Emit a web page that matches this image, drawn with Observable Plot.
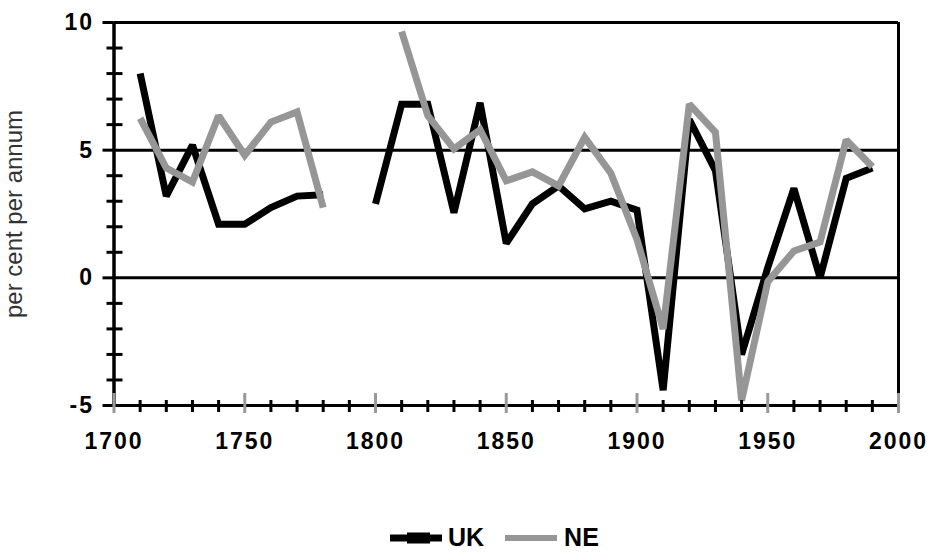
<!DOCTYPE html>
<html>
<head>
<meta charset="utf-8">
<script src="https://cdn.jsdelivr.net/npm/d3@7"></script>
<script src="https://cdn.jsdelivr.net/npm/@observablehq/plot@0.6"></script>
<style>
  body { margin: 0; background: #fff; }
  #wrap { position: relative; width: 934px; height: 552px; font-family: "Liberation Sans", Arial, sans-serif; background: #fff; overflow: hidden; }
  #wrap svg g[aria-label="x-axis tick label"] text,
  #wrap svg g[aria-label="y-axis tick label"] text { letter-spacing: 2px; }
  #legend { position: absolute; left: 390px; top: 524px; display: flex; align-items: center; height: 27px;
            font-weight: bold; font-size: 25px; line-height: 27px; color: #000; }
  #legend span { line-height: 27px; display: inline-block; }
</style>
</head>
<body>
<div id="wrap">
  <div id="chart"></div>
  <div id="legend"></div>
</div>
<script>
// ---- data ----
const years = [1710, 1720, 1730, 1740, 1750, 1760, 1770, 1780, 1790, 1800,
               1810, 1820, 1830, 1840, 1850, 1860, 1870, 1880, 1890, 1900,
               1910, 1920, 1930, 1940, 1950, 1960, 1970, 1980, 1990];
const ukValues = [8.0, 3.2, 5.2, 2.1, 2.1, 2.75, 3.2, 3.25, null, 2.9,
                  6.8, 6.8, 2.55, 6.85, 1.35, 2.9, 3.6, 2.7, 3.0, 2.65,
                  -4.4, 6.2, 4.2, -3.0, 0.4, 3.5, 0.0, 3.9, 4.3];
const neValues = [6.25, 4.3, 3.75, 6.35, 4.8, 6.1, 6.5, 2.75, null, null,
                  9.65, 6.35, 5.05, 5.8, 3.8, 4.15, 3.6, 5.5, 4.1, 1.5,
                  -2.0, 6.8, 5.7, -4.8, -0.15, 1.05, 1.4, 5.4, 4.35];
const seriesNames = ["UK", "NE"];
const seriesColors = ["#000000", "#969696"];
const yLabel = "per cent per annum";
const yMajorTicks = [-5, 0, 5, 10];
const yMinorTicks = [-4, -3, -2, -1, 1, 2, 3, 4, 6, 7, 8, 9];
const xMajorTicks = [1700, 1750, 1800, 1850, 1900, 1950, 2000];
const xMinorTicks = [1710, 1720, 1730, 1740, 1760, 1770, 1780, 1790, 1810, 1820, 1830, 1840,
                     1860, 1870, 1880, 1890, 1910, 1920, 1930, 1940, 1960, 1970, 1980, 1990];
const gridValues = [0, 5, 10];

const ukRows = years.map((year, i) => ({year, value: ukValues[i]}));
const neRows = years.map((year, i) => ({year, value: neValues[i]}));

const lineOpts = {x: "year", y: "value", strokeWidth: 7, strokeLinejoin: "miter", strokeMiterlimit: 2, strokeLinecap: "butt"};
const fmt = d => String(d);

const chart = Plot.plot({
  width: 934,
  height: 515,
  marginLeft: 113.5,
  marginRight: 36,
  marginTop: 22,
  marginBottom: 110,
  style: {fontFamily: "'Liberation Sans', Arial, sans-serif", color: "#000", background: "#fff", overflow: "visible"},
  x: {domain: [1700, 2000], label: null},
  y: {domain: [-5, 10], label: null},
  marks: [
    Plot.ruleY(gridValues, {stroke: "#000", strokeWidth: 3}),
    Plot.ruleX([2000], {stroke: "#000", strokeWidth: 3}),
    Plot.line(ukRows, {...lineOpts, stroke: seriesColors[0]}),
    Plot.line(neRows, {...lineOpts, stroke: seriesColors[1]}),
    Plot.ruleX([1700], {stroke: "#000", strokeWidth: 3.5}),
    Plot.ruleY([-5], {stroke: "#000", strokeWidth: 3}),
    Plot.axisY({ticks: yMajorTicks, tickSize: 11, tickPadding: 9, strokeWidth: 3, fontSize: 23, fontWeight: "bold", tickFormat: fmt}),
    Plot.axisY({ticks: yMinorTicks, tickSize: 16, dx: 9, text: null, strokeWidth: 3}),
    Plot.axisX({ticks: xMinorTicks, tickSize: 12, dy: -5, text: null, strokeWidth: 3}),
    Plot.axisX({ticks: xMajorTicks, tickSize: 20, dy: -12, text: null, stroke: "#999", strokeWidth: 3}),
    Plot.axisX({ticks: xMajorTicks, tickSize: 0, tickPadding: 27, fontSize: 23, fontWeight: "bold", tickFormat: fmt}),
    Plot.axisY({ticks: [], tickSize: 0, label: yLabel, labelAnchor: "center", labelArrow: "none", labelOffset: 109, fontSize: 24, fontWeight: "normal", fill: "#333"})
  ]
});
document.getElementById("chart").appendChild(chart);

// legend
const legend = document.getElementById("legend");
seriesNames.forEach((name, i) => {
  const ns = "http://www.w3.org/2000/svg";
  const sw = document.createElementNS(ns, "svg");
  sw.setAttribute("width", 52); sw.setAttribute("height", 14);
  sw.style.marginLeft = i === 0 ? "0px" : "21px";
  sw.style.marginRight = i === 0 ? "6px" : "7px";
  const ln = document.createElementNS(ns, "line");
  ln.setAttribute("x1", 0); ln.setAttribute("x2", 52); ln.setAttribute("y1", 7); ln.setAttribute("y2", 7);
  ln.setAttribute("stroke", seriesColors[i]); ln.setAttribute("stroke-width", i === 0 ? 7 : 6);
  sw.appendChild(ln);
  if (i === 0) {
    const r = document.createElementNS(ns, "rect");
    r.setAttribute("x", 17); r.setAttribute("y", 1.5); r.setAttribute("width", 23); r.setAttribute("height", 11);
    r.setAttribute("fill", seriesColors[i]);
    sw.appendChild(r);
  }
  legend.appendChild(sw);
  const t = document.createElement("span");
  t.textContent = name;
  legend.appendChild(t);
});
</script>
</body>
</html>
